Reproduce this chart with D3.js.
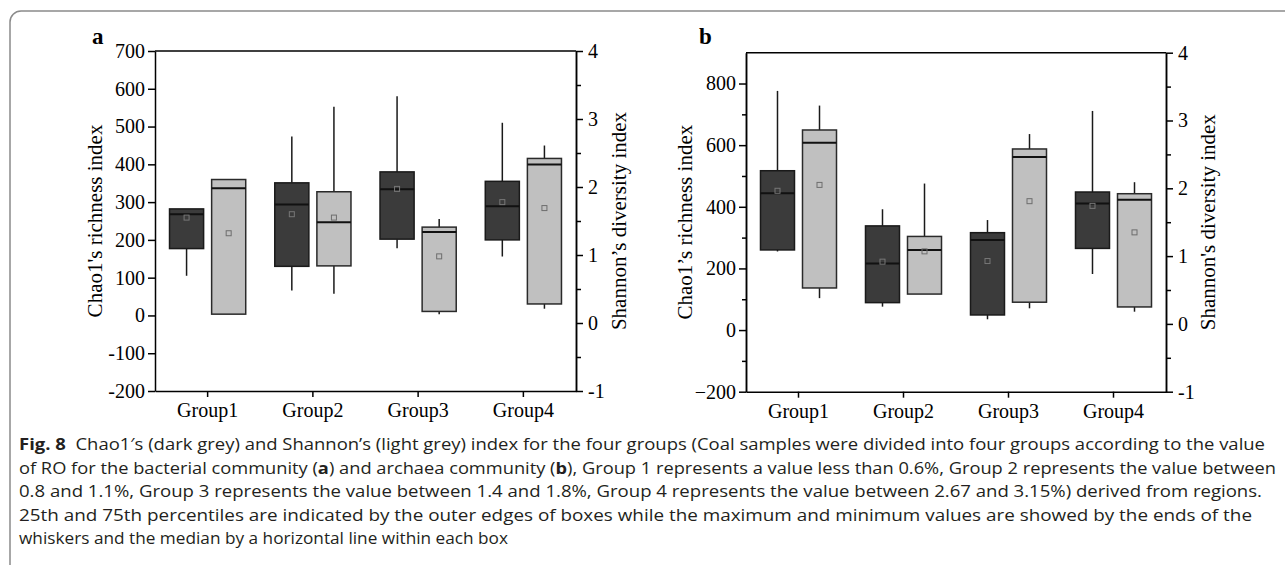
<!DOCTYPE html>
<html><head><meta charset="utf-8">
<script src="https://cdn.jsdelivr.net/npm/d3@7"></script>
<style>
html,body{margin:0;padding:0;background:#fff;}
svg{display:block;}
</style></head>
<body>
<script>
// ---------- DATA ----------
const groups = ["Group1", "Group2", "Group3", "Group4"];
const series = ["Chao1", "Shannon"];

// Panel a (bacterial) – Chao1 (left axis)
const aChaoMin  = [105, 66, 178, 156];
const aChaoQ1   = [177, 130, 202, 200];
const aChaoMed  = [268, 294, 334, 289];
const aChaoQ3   = [282, 351, 380, 355];
const aChaoMax  = [282, 474, 580, 510];
const aChaoMean = [259, 268, 335, 300];
// Panel a – Shannon (right axis)
const aShanMin  = [0.13, 0.43, 0.13, 0.21];
const aShanQ1   = [0.13, 0.84, 0.17, 0.28];
const aShanMed  = [1.98, 1.48, 1.34, 2.33];
const aShanQ3   = [2.11, 1.93, 1.41, 2.42];
const aShanMax  = [2.11, 3.18, 1.53, 2.61];
const aShanMean = [1.32, 1.55, 0.98, 1.69];

// Panel b (archaea) – Chao1 (left axis)
const bChaoMin  = [255, 76, 35, 182];
const bChaoQ1   = [260, 89, 49, 265];
const bChaoMed  = [444, 216, 292, 411];
const bChaoQ3   = [517, 338, 316, 448];
const bChaoMax  = [776, 392, 357, 711];
const bChaoMean = [452, 222, 224, 403];
// Panel b – Shannon (right axis)
const bShanMin  = [0.38, 0.44, 0.23, 0.18];
const bShanQ1   = [0.53, 0.44, 0.32, 0.25];
const bShanMed  = [2.67, 1.09, 2.46, 1.83];
const bShanQ3   = [2.86, 1.29, 2.58, 1.92];
const bShanMax  = [3.22, 2.07, 2.80, 2.09];
const bShanMean = [2.05, 1.07, 1.81, 1.35];

// Tick values
const aLeftTicks  = [-200, -100, 0, 100, 200, 300, 400, 500, 600, 700];
const bLeftTicks  = [-200, 0, 200, 400, 600, 800];
const bLeftMinor  = [-100, 100, 300, 500, 700];
const rightTicks  = [-1, 0, 1, 2, 3, 4];
const rightMinor  = [-0.5, 0.5, 1.5, 2.5, 3.5];

// ---------- DRAW ----------
const W = 1285, H = 565;
const svg = d3.select("body").append("svg").attr("width", W).attr("height", H);
const serif = "'Liberation Serif','Times New Roman',serif";

// outer rounded frame
svg.append("rect").attr("x", 10).attr("y", 11).attr("width", 1320).attr("height", 620)
  .attr("rx", 11).attr("fill", "none").attr("stroke", "#8a8a8a").attr("stroke-width", 1.5);

function pack(mn, q1, md, q3, mx, mean) {
  return groups.map((g, i) => ({g, min: mn[i], q1: q1[i], med: md[i], q3: q3[i], max: mx[i], mean: mean[i]}));
}

function panel(o) {
  const g = svg.append("g");
  const x = d3.scaleBand().domain(groups).range([o.x0, o.x1]).padding(0);
  const xs = d3.scaleBand().domain(series).range([0, x.bandwidth()])
    .paddingInner(8 / 42).paddingOuter(0.345);
  const yL = d3.scaleLinear().domain(o.leftDomain).range([o.yB, o.yT]);
  const yR = d3.scaleLinear().domain([-1, 4]).range([o.yB, o.yT]);

  // frame top line
  g.append("line").attr("x1", o.x0).attr("x2", o.x1).attr("y1", o.yT).attr("y2", o.yT)
    .attr("stroke", "#000").attr("stroke-width", 1.5);

  const styleAxis = sel => {
    sel.select(".domain").attr("stroke", "#000").attr("stroke-width", 1.5);
    sel.selectAll(".tick line").attr("stroke", "#000").attr("stroke-width", 1.5);
    sel.selectAll("text").attr("font-family", serif).attr("font-size", 20).attr("fill", "#000");
  };

  // left axis
  const la = g.append("g").attr("transform", `translate(${o.x0},0)`)
    .call(d3.axisLeft(yL).tickValues(o.leftTicks).tickSize(7).tickSizeOuter(0)
      .tickPadding(3).tickFormat(o.leftFmt));
  styleAxis(la);
  if (o.leftMinor) {
    const lm = g.append("g").attr("transform", `translate(${o.x0},0)`)
      .call(d3.axisLeft(yL).tickValues(o.leftMinor).tickSize(4).tickSizeOuter(0).tickFormat(""));
    styleAxis(lm);
  }
  // right axis
  const ra = g.append("g").attr("transform", `translate(${o.x1},0)`)
    .call(d3.axisRight(yR).tickValues(rightTicks).tickSize(7).tickSizeOuter(0)
      .tickPadding(5).tickFormat(d => String(d)));
  styleAxis(ra);
  const rm = g.append("g").attr("transform", `translate(${o.x1},0)`)
    .call(d3.axisRight(yR).tickValues(rightMinor).tickSize(5).tickSizeOuter(0).tickFormat(""));
  styleAxis(rm);
  // bottom axis
  const ba = g.append("g").attr("transform", `translate(0,${o.yB})`)
    .call(d3.axisBottom(x).tickSize(6).tickSizeOuter(0).tickPadding(6));
  styleAxis(ba);
  ba.selectAll("text").attr("dy", "0.71em");

  // boxes
  const sets = [
    {key: "Chao1", data: o.chao, y: yL, fill: "#3b3b3b", stroke: "#1a1a1a", mean: "#777"},
    {key: "Shannon", data: o.shan, y: yR, fill: "#c0c0c0", stroke: "#2a2a2a", mean: "#6d6d6d"}
  ];
  sets.forEach(s => {
    const gg = g.append("g");
    const bx = d => x(d.g) + xs(s.key);
    const cx = d => bx(d) + xs.bandwidth() / 2;
    // whiskers
    gg.selectAll("line.wl").data(s.data.filter(d => d.min < d.q1)).join("line")
      .attr("x1", cx).attr("x2", cx).attr("y1", d => s.y(d.min)).attr("y2", d => s.y(d.q1))
      .attr("stroke", "#1a1a1a").attr("stroke-width", 1.5);
    gg.selectAll("line.wh").data(s.data.filter(d => d.max > d.q3)).join("line")
      .attr("x1", cx).attr("x2", cx).attr("y1", d => s.y(d.max)).attr("y2", d => s.y(d.q3))
      .attr("stroke", "#1a1a1a").attr("stroke-width", 1.5);
    // box
    gg.selectAll("rect.box").data(s.data).join("rect")
      .attr("x", bx).attr("width", xs.bandwidth())
      .attr("y", d => s.y(d.q3)).attr("height", d => s.y(d.q1) - s.y(d.q3))
      .attr("fill", s.fill).attr("stroke", s.stroke).attr("stroke-width", 1.5);
    // median
    gg.selectAll("line.med").data(s.data).join("line")
      .attr("x1", bx).attr("x2", d => bx(d) + xs.bandwidth())
      .attr("y1", d => s.y(d.med)).attr("y2", d => s.y(d.med))
      .attr("stroke", "#111").attr("stroke-width", 2);
    // mean marker
    gg.selectAll("rect.mean").data(s.data).join("rect")
      .attr("x", d => cx(d) - 2.5).attr("y", d => s.y(d.mean) - 2.5)
      .attr("width", 5).attr("height", 5)
      .attr("fill", "none").attr("stroke", s.mean).attr("stroke-width", 1);
  });

  // axis titles
  const ym = (o.yT + o.yB) / 2;
  g.append("text").attr("transform", `translate(${o.ltX},${ym}) rotate(-90)`)
    .attr("text-anchor", "middle").attr("font-family", serif).attr("font-size", 21)
    .text(o.leftTitle);
  g.append("text").attr("transform", `translate(${o.rtX},${ym}) rotate(-90)`)
    .attr("text-anchor", "middle").attr("font-family", serif).attr("font-size", 21)
    .text(o.rightTitle);
  // panel letter
  g.append("text").attr("x", o.lx).attr("y", 44).attr("font-family", serif)
    .attr("font-size", 23).attr("font-weight", "bold").text(o.letter);
}

panel({
  x0: 155, x1: 576, yT: 51, yB: 391,
  leftDomain: [-200, 700], leftTicks: aLeftTicks, leftMinor: null, leftFmt: d => String(d),
  chao: pack(aChaoMin, aChaoQ1, aChaoMed, aChaoQ3, aChaoMax, aChaoMean),
  shan: pack(aShanMin, aShanQ1, aShanMed, aShanQ3, aShanMax, aShanMean),
  leftTitle: "Chao1's richness index", rightTitle: "Shannon\u2019s diversity index",
  ltX: 102, rtX: 626, letter: "a", lx: 92
});
panel({
  x0: 746, x1: 1166, yT: 52.7, yB: 391.7,
  leftDomain: [-200, 900], leftTicks: bLeftTicks, leftMinor: bLeftMinor, leftFmt: d3.format("d"),
  chao: pack(bChaoMin, bChaoQ1, bChaoMed, bChaoQ3, bChaoMax, bChaoMean),
  shan: pack(bShanMin, bShanQ1, bShanMed, bShanQ3, bShanMax, bShanMean),
  leftTitle: "Chao1\u2019s richness index", rightTitle: "Shannon's diversity index",
  ltX: 692, rtX: 1215, letter: "b", lx: 699
});

// ---------- CAPTION ----------
const capFont = "'Open Sans','Noto Sans',sans-serif";
const capLines = [
  {end: 1265, parts: [["Fig. 8", true], ["\u00a0\u00a0Chao1\u2032s (dark grey) and Shannon\u2019s (light grey) index for the four groups (Coal samples were divided into four groups according to the value", false]]},
  {end: 1276, parts: [["of RO for the bacterial community (", false], ["a", true], [") and archaea community (", false], ["b", true], ["), Group 1 represents a value less than 0.6%, Group 2 represents the value between", false]]},
  {end: 1262, parts: [["0.8 and 1.1%, Group 3 represents the value between 1.4 and 1.8%, Group 4 represents the value between 2.67 and 3.15%) derived from regions.", false]]},
  {end: 1252, parts: [["25th and 75th percentiles are indicated by the outer edges of boxes while the maximum and minimum values are showed by the ends of the", false]]},
  {end: 508, parts: [["whiskers and the median by a horizontal line within each box", false]]}
];
capLines.forEach((ln, i) => {
  const t = svg.append("text").attr("x", 19).attr("y", 450 + i * 23.5)
    .attr("font-family", capFont).attr("font-size", 15.5).attr("fill", "#231f20")
    .attr("textLength", ln.end - 19).attr("lengthAdjust", "spacingAndGlyphs");
  ln.parts.forEach(p => {
    t.append("tspan").attr("font-weight", p[1] ? "bold" : "normal").text(p[0]);
  });
});
</script>
</body></html>
